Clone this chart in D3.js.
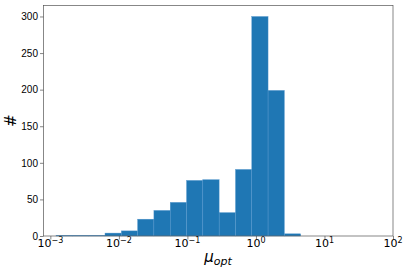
<!DOCTYPE html>
<html>
<head>
<meta charset="utf-8">
<script src="https://cdn.jsdelivr.net/npm/d3@7"></script>
<style>
  body { margin: 0; background: #fff; }
  svg { font-family: "DejaVu Sans", sans-serif; }
</style>
</head>
<body>
<svg id="chart" width="407" height="271"></svg>
<script>
// bin edges (log-spaced) and counts per bin
const binEdges = [0.00121, 0.00209, 0.00362, 0.00627, 0.01084, 0.01875, 0.03243,
  0.0561, 0.09705, 0.1679, 0.2904, 0.5023, 0.869, 1.503, 2.6, 4.498];
const counts = [1, 1, 1, 4, 7, 23, 35, 46, 76, 77, 32, 91, 300, 199, 3];
const yTicks = [0, 50, 100, 150, 200, 250, 300];
const xTicks = [-3, -2, -1, 0, 1, 2];

const margin = { left: 43.5, right: 14, top: 5.5, bottom: 35 };
const W = 407, H = 271;
const svg = d3.select("#chart");

const x = d3.scaleLog().domain([Math.pow(10, -3.1), 100]).range([margin.left, W - margin.right]);
const y = d3.scaleLinear().domain([0, 315]).range([H - margin.bottom, margin.top]);

const bins = counts.map((c, i) => ({ x0: binEdges[i], x1: binEdges[i + 1], n: c }));

// BARS
svg.append("g").selectAll("rect").data(bins).enter().append("rect")
  .attr("x", d => x(d.x0))
  .attr("width", d => x(d.x1) - x(d.x0))
  .attr("y", d => y(d.n))
  .attr("height", d => y(0) - y(d.n))
  .attr("fill", "#1f77b4")
  .attr("stroke", "#5b9bd0")
  .attr("stroke-width", 0.4);

// AXES
const xAxis = svg.append("g").attr("transform", `translate(0,${y(0)})`)
  .call(d3.axisBottom(x).tickValues(xTicks.map(e => Math.pow(10, e))).tickSize(3.5).tickFormat(""));
const yAxis = svg.append("g").attr("transform", `translate(${margin.left},0)`)
  .call(d3.axisLeft(y).tickValues(yTicks).tickSize(3.5).tickPadding(2));

[xAxis, yAxis].forEach(a => {
  a.select(".domain").remove();
  a.selectAll("line").attr("stroke", "#333").attr("stroke-width", 0.6);
});
yAxis.selectAll("text").attr("font-size", 10).attr("fill", "#000");

// x tick labels as 10^n
xTicks.forEach(e => {
  const t = svg.append("text")
    .attr("x", x(Math.pow(10, e)))
    .attr("y", y(0) + 11)
    .attr("text-anchor", "middle")
    .attr("font-size", 11);
  t.append("tspan").text("10");
  t.append("tspan").attr("dy", -4.5).attr("font-size", 8).text(e < 0 ? "\u2212" + (-e) : e);
});

// frame
svg.append("rect")
  .attr("x", margin.left).attr("y", margin.top)
  .attr("width", W - margin.right - margin.left)
  .attr("height", y(0) - margin.top)
  .attr("fill", "none").attr("stroke", "#555").attr("stroke-width", 0.7);

// LABELS
svg.append("text")
  .attr("transform", `translate(16,${(margin.top + y(0)) / 2}) rotate(-90)`)
  .attr("text-anchor", "middle")
  .attr("font-size", 15)
  .text("#");

const xl = svg.append("text")
  .attr("x", 218).attr("y", 262)
  .attr("text-anchor", "middle")
  .attr("font-size", 15)
  .attr("font-style", "italic");
xl.append("tspan").text("\u03bc");
xl.append("tspan").attr("dy", 3).attr("font-size", 11).text("opt");
</script>
</body>
</html>
